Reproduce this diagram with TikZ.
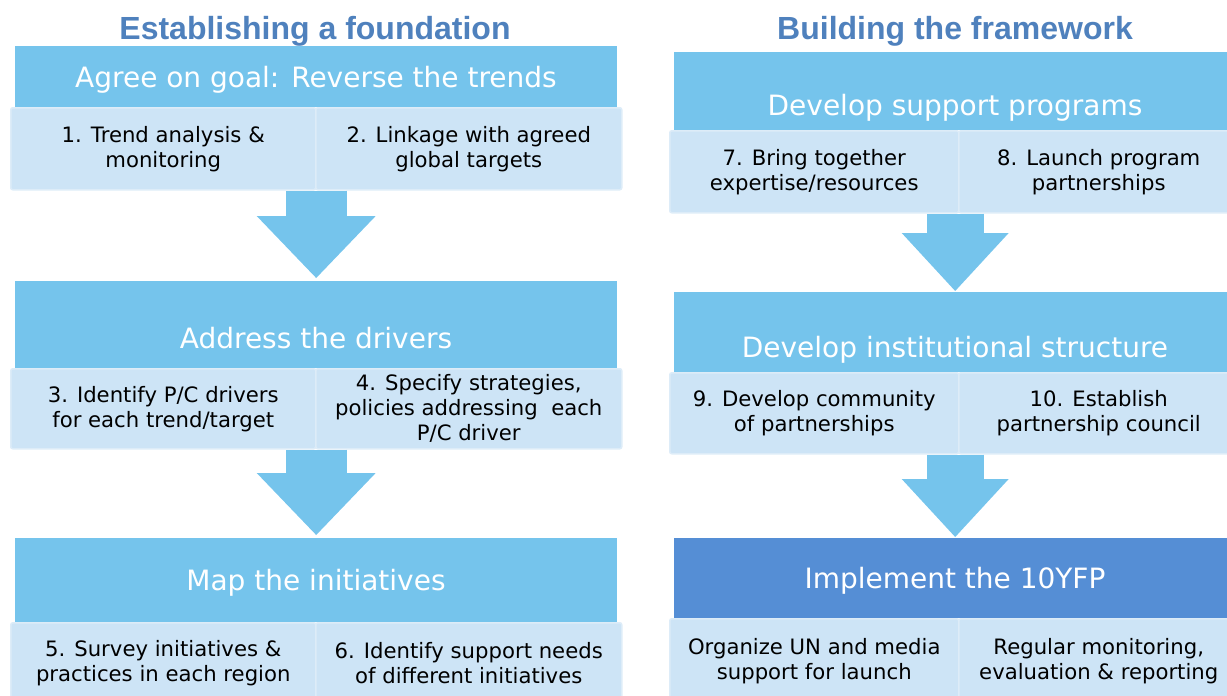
\documentclass[tikz,border=0pt]{standalone}
\usepackage{fontspec}
\setmainfont{DejaVu Sans}
\newfontfamily\titlefont{Liberation Sans}
\usetikzlibrary{arrows.meta}
\definecolor{hdrblue}{HTML}{75C4EC}
\definecolor{subblue}{HTML}{CDE4F6}
\definecolor{subedge}{HTML}{DDECF8}
\definecolor{darkblue}{HTML}{558ED5}
\definecolor{titleblue}{HTML}{4F81BD}
\begin{document}
\begin{tikzpicture}[x=1pt,y=-1pt,
  hdrbox/.style={rectangle, fill=hdrblue, draw=none, inner sep=0pt, anchor=north west},
  hdrtext/.style={text=white, anchor=mid, font=\fontsize{28}{34}\selectfont},
  subbox/.style={rectangle, fill=subblue, draw=subedge, line width=1.5pt, rounded corners=2pt,
    inner sep=0pt, anchor=north west, align=center, text=black,
    font=\fontsize{21.2}{25}\selectfont},
  ttl/.style={text=titleblue, anchor=mid, font=\titlefont\bfseries\fontsize{32}{38}\selectfont},
  arrowL/.style={draw=hdrblue, line width=61pt,
    -{Triangle[width=119pt, length=62pt, line width=0pt]}, shorten >=3pt},
  arrowR/.style={draw=hdrblue, line width=57pt,
    -{Triangle[width=107pt, length=58pt, line width=0pt]}, shorten >=1pt}
]
\useasboundingbox (0,0) rectangle (1227,696);
\clip (0,0) rectangle (1227,696);

% ---------- left column ----------
\node[ttl] (t1) at (315,37) {Establishing a foundation};

\node[hdrbox, minimum width=602pt, minimum height=61pt] (h1) at (15,46) {};
\node[hdrtext] (h1t) at (316,85) {Agree on goal: Reverse the trends};
\node[subbox, minimum width=305pt, minimum height=82pt] (s1a) at (10,107)
  {1. Trend analysis \&\\monitoring};
\node[subbox, minimum width=306pt, minimum height=82pt] (s1b) at (315,107)
  {2. Linkage with agreed\\global targets};

\node[hdrbox, minimum width=602pt, minimum height=87pt] (h2) at (15,281) {};
\node[hdrtext] (h2t) at (316,346) {Address the drivers};
\node[subbox, minimum width=305pt, minimum height=80pt] (s2a) at (10,368)
  {3. Identify P/C drivers\\for each trend/target};
\node[subbox, minimum width=306pt, minimum height=80pt] (s2b) at (315,368)
  {4. Specify strategies,\\policies addressing\ \ each\\P/C driver};

\node[hdrbox, minimum width=602pt, minimum height=84pt] (h3) at (15,538) {};
\node[hdrtext] (h3t) at (316,588) {Map the initiatives};
\node[subbox, minimum width=305pt, minimum height=81pt] (s3a) at (10,622)
  {5. Survey initiatives \&\\practices in each region};
\node[subbox, minimum width=306pt, minimum height=81pt] (s3b) at (315,622)
  {6. Identify support needs\\of different initiatives};

% ---------- right column ----------
\node[ttl] (t2) at (955,37) {Building the framework};

\node[hdrbox, minimum width=562pt, minimum height=78pt] (h4) at (674,52) {};
\node[hdrtext] (h4t) at (955,113) {Develop support programs};
\node[subbox, minimum width=289pt, minimum height=82pt] (s4a) at (669,130)
  {7. Bring together\\expertise/resources};
\node[subbox, minimum width=280pt, minimum height=82pt] (s4b) at (958,130)
  {8. Launch program\\partnerships};

\node[hdrbox, minimum width=562pt, minimum height=80pt] (h5) at (674,292) {};
\node[hdrtext] (h5t) at (955,355) {Develop institutional structure};
\node[subbox, minimum width=289pt, minimum height=81pt] (s5a) at (669,372)
  {9. Develop community\\of partnerships};
\node[subbox, minimum width=280pt, minimum height=81pt] (s5b) at (958,372)
  {10. Establish\\partnership council};

\node[hdrbox, fill=darkblue, minimum width=562pt, minimum height=80pt] (h6) at (674,538) {};
\node[hdrtext] (h6t) at (955,586) {Implement the 10YFP};
\node[subbox, minimum width=289pt, minimum height=85pt] (s6a) at (669,618)
  {Organize UN and media\\support for launch};
\node[subbox, minimum width=280pt, minimum height=85pt] (s6b) at (958,618)
  {Regular monitoring,\\evaluation \& reporting};

% ---------- arrows ----------
\draw[arrowL] (s1a.south east -| h1.south) -- (h2.north);
\draw[arrowL] (s2a.south east -| h2.south) -- (h3.north);
\draw[arrowR] (s4a.south east -| h4.south) -- (h5.north);
\draw[arrowR] (s5a.south east -| h5.south) -- (h6.north);
\end{tikzpicture}
\end{document}
